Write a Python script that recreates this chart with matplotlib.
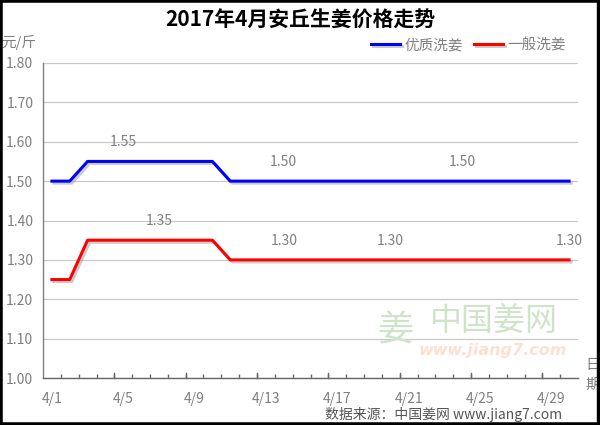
import matplotlib
matplotlib.use("Agg")
import matplotlib.pyplot as plt
import matplotlib.patheffects as pe
from matplotlib.patches import Rectangle
from matplotlib.ticker import FixedLocator

plt.rcParams['font.family'] = ['Noto Sans CJK SC', 'DejaVu Sans']

# data
dates = ["4/%d" % d for d in range(1, 31)]
premium = [1.50, 1.50] + [1.55] * 8 + [1.50] * 20   # 优质洗姜
regular = [1.25, 1.25] + [1.35] * 8 + [1.30] * 20   # 一般洗姜
premium_labels = [4, 13, 23]        # indices where value labels are shown
regular_labels = [6, 13, 19, 29]
y_ticks = [1.00, 1.10, 1.20, 1.30, 1.40, 1.50, 1.60, 1.70, 1.80]

gray = "#7f7f7f"
fig = plt.figure(figsize=(6, 4.25), dpi=100)
ax = fig.add_axes([43 / 600, 1 - 378 / 425, 535 / 600, 315 / 425])

x = list(range(len(dates)))
shadow = [pe.SimpleLineShadow(offset=(1.5, -1.5), shadow_color="#999999", alpha=0.5), pe.Normal()]
ax.plot(x, premium, color="#0000ff", lw=2.2, label="优质洗姜", path_effects=shadow, zorder=3)
ax.plot(x, regular, color="#ff0000", lw=2.2, label="一般洗姜", path_effects=shadow, zorder=3)

for i in premium_labels:
    ax.annotate("%.2f" % premium[i], (x[i], premium[i]), xytext=(0, 19), textcoords="offset pixels",
                ha="center", va="center", fontsize=10, color=gray)
for i in regular_labels:
    ax.annotate("%.2f" % regular[i], (x[i], regular[i]), xytext=(0, 19), textcoords="offset pixels",
                ha="center", va="center", fontsize=10, color=gray)

ax.set_xlim(-0.5, len(dates) - 0.5)
ax.set_ylim(1.0, 1.8)
ax.set_yticks(y_ticks)
ax.set_yticklabels(["%.2f" % v for v in y_ticks], fontsize=10, color=gray)
ax.yaxis.grid(True, color="#c8c8c8", lw=0.9)
ax.set_axisbelow(True)
ax.tick_params(axis="y", length=0, pad=7)

ax.set_xticks(x[::4])
ax.set_xticklabels(dates[::4], fontsize=10, color=gray)
ax.xaxis.set_minor_locator(FixedLocator([i + 0.5 for i in range(len(dates) - 1)]))
ax.tick_params(axis="x", which="major", length=0, pad=10)
ax.tick_params(axis="x", which="minor", direction="in", length=3, color="#666666", width=1)
for i in range(3, len(dates) - 1, 4):
    ax.plot([i + 0.5, i + 0.5], [1.0, 1.012], color="#666666", lw=1, clip_on=False, zorder=4)

for s in ["top", "right"]:
    ax.spines[s].set_visible(False)
ax.spines["left"].set_color("#808080")
ax.spines["bottom"].set_color("#666666")
ax.spines["left"].set_linewidth(1)
ax.spines["bottom"].set_linewidth(1)

ax.legend(loc="center right", bbox_to_anchor=(576 / 600, 1 - 45 / 425), bbox_transform=fig.transFigure,
          ncol=2, frameon=False, fontsize=10.5, handlelength=2.0, columnspacing=0.75, handletextpad=0.3,
          borderpad=0.2, labelcolor=gray)

fig.text(0.5, 1 - 20 / 425, "2017年4月安丘生姜价格走势", ha="center", va="center",
         fontsize=15, fontweight="bold", color="black")
fig.text(1 / 600, 1 - 42 / 425, "元/斤", ha="left", va="center", fontsize=10.5, color=gray)
fig.text(585 / 600, 1 - 365 / 425, "日", ha="left", va="center", fontsize=10.5, color=gray)
fig.text(585 / 600, 1 - 385 / 425, "期", ha="left", va="center", fontsize=10.5, color=gray)
fig.text(562 / 600, 1 - 414 / 425, "数据来源：中国姜网 www.jiang7.com", ha="right", va="center",
         fontsize=10, color="#555555")

# watermark
fig.text(395 / 600, 1 - 332 / 425, "姜", ha="center", va="center", fontsize=26, color="#cfe3c9")
fig.text(494 / 600, 1 - 321 / 425, "中国姜网", ha="center", va="center", fontsize=23, color="#cfe3c9")
fig.text(493 / 600, 1 - 350 / 425, "www.jiang7.com", ha="center", va="center", fontsize=11.5,
         fontweight="bold", style="italic", color="#fde0cf", family="DejaVu Sans")

# black frame
fig.patches.append(Rectangle((0, 0), 1, 1, transform=fig.transFigure, fill=False,
                             edgecolor="black", lw=4, zorder=10))
fig.patches.append(Rectangle((597 / 600, 0), 3 / 600, 1, transform=fig.transFigure,
                             color="black", zorder=10))

fig.savefig("out.png", dpi=100)
